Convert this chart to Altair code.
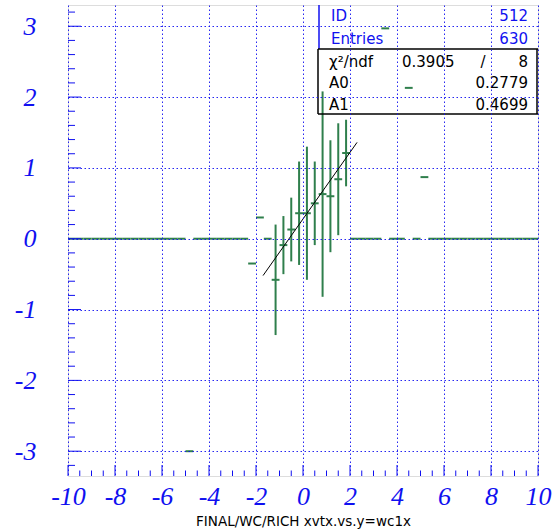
import altair as alt
import numpy as np
import pandas as pd

# ---- histogram data (bins of width 1/3 from -10 to 10) ----
x_lo, x_hi, n_bins = -10.0, 10.0, 60
filled_centers = [-4.833, -2.167, -1.833, -1.167, -0.833, -0.5, -0.167, 0.167,
                  0.5, 0.833, 1.167, 1.5, 1.833, 3.5, 4.5, 5.167]
filled_values = [-3.00, -0.35, 0.30, -0.58, -0.09, 0.13, 0.36, 0.36,
                 0.50, 0.63, 0.60, 0.84, 1.21, 2.97, 2.13, 0.87]
filled_errors = [0.0, 0.0, 0.0, 0.78, 0.41, 0.45, 0.73, 0.94,
                 0.59, 1.45, 0.79, 0.79, 0.47, 0.0, 0.0, 0.0]

# fit line endpoints
fit_x = [-1.70, 2.30]
fit_y = [-0.52, 1.36]

# stats box texts
stat_labels = ["ID", "Entries"]
stat_values = ["512", "630"]
fit_labels = ["χ²/ndf", "A0", "A1"]
fit_values = ["8", "0.2779", "0.4699"]
chi2_text = "0.3905"

x_major = list(range(-10, 11, 2))
x_minor = [v / 2 for v in range(-20, 21) if v % 4 != 0]
y_major = [-3, -2, -1, 0, 1, 2, 3]
y_minor = [v / 5 for v in range(-16, 17) if v % 5 != 0]

edges = np.linspace(x_lo, x_hi, n_bins + 1)
rows = []
for i in range(n_bins):
    c = (edges[i] + edges[i + 1]) / 2
    val, err = 0.0, 0.0
    for fc, fv, fe in zip(filled_centers, filled_values, filled_errors):
        if abs(fc - c) < 0.05:
            val, err = fv, fe
    rows.append({"lo": edges[i], "hi": edges[i + 1], "c": c, "v": val,
                 "e_lo": val - err, "e_hi": val + err, "err": err})
hist = pd.DataFrame(rows)
errs = hist[hist["err"] > 0]

W, H = 470, 471
GREEN = "#2f7f4c"
BLUE = "#1010f0"

xs = alt.Scale(domain=[-10, 10], nice=False, zero=False)
ys = alt.Scale(domain=[-3.35, 3.3], nice=False, zero=False)

lab = dict(labelFont="Liberation Serif", labelFontStyle="italic", labelFontSize=26,
           labelColor=BLUE, labelExpr="'' + datum.value", labelOverlap=False,
           labelFlush=False, labelBound=False, grid=True, gridColor=BLUE,
           gridDash=[1.5, 2.5], gridWidth=1, gridOpacity=0.9, ticks=False,
           domain=False, zindex=1)

x_axis = alt.Axis(values=x_major, labelPadding=7,
                  title="FINAL/WC/RICH xvtx.vs.y=wc1x", titleFont="DejaVu Sans",
                  titleFontSize=13.5, titleFontWeight="normal", titleColor="black",
                  titlePadding=5, **lab)
y_axis = alt.Axis(values=y_major, labelPadding=32, title=None, **lab)

base = alt.Chart(hist)

hbars = base.mark_rule(color=GREEN, strokeWidth=2).encode(
    x=alt.X("lo:Q", scale=xs, axis=x_axis),
    x2="hi:Q",
    y=alt.Y("v:Q", scale=ys, axis=y_axis),
)
vbars = alt.Chart(errs).mark_rule(color=GREEN, strokeWidth=2).encode(
    x=alt.X("c:Q", scale=xs), y=alt.Y("e_lo:Q", scale=ys), y2="e_hi:Q"
)
fit = alt.Chart(pd.DataFrame({"x": fit_x, "y": fit_y})).mark_line(
    color="black", strokeWidth=1).encode(
    x=alt.X("x:Q", scale=xs), y=alt.Y("y:Q", scale=ys))

# ticks (inward)
def xt(vals, length):
    return alt.Chart(pd.DataFrame({"t": vals})).mark_rule(color=BLUE, strokeWidth=1).encode(
        x=alt.X("t:Q", scale=xs), y=alt.value(H), y2=alt.value(H - length))

def yt(vals, length):
    return alt.Chart(pd.DataFrame({"t": vals})).mark_rule(color=BLUE, strokeWidth=1).encode(
        y=alt.Y("t:Q", scale=ys), x=alt.value(0), x2=alt.value(length))

ticks = [xt(x_major, 11), xt(x_minor, 5.5), yt(y_major, 13), yt(y_minor, 7)]

# stats box
one = pd.DataFrame({"a": [0]})
def hline(x1, x2, y, color, w=1.5):
    return alt.Chart(one).mark_rule(color=color, strokeWidth=w).encode(
        x=alt.value(x1), x2=alt.value(x2), y=alt.value(y))

def vline(x, y1, y2, color, w=1.5):
    return alt.Chart(one).mark_rule(color=color, strokeWidth=w).encode(
        x=alt.value(x), y=alt.value(y1), y2=alt.value(y2))

def txt(s, x, y, align, color):
    return alt.Chart(one).mark_text(text=s, align=align, baseline="middle",
                                    font="DejaVu Sans", fontSize=15, color=color).encode(
        x=alt.value(x), y=alt.value(y))

box = [
    vline(251, 0, 44, BLUE),
    hline(250, W, 44, "black"),
    hline(250, W, 109, "black"),
    vline(250, 44, 109, "black"),
    vline(W - 1, 44, 109, "black"),
]
row_y = [11, 34]
for s, v, y in zip(stat_labels, stat_values, row_y):
    box.append(txt(s, 263, y, "left", BLUE))
    box.append(txt(v, 460, y, "right", BLUE))
frow_y = [57, 78, 100]
for s, v, y in zip(fit_labels, fit_values, frow_y):
    box.append(txt(s, 261, y, "left", "black"))
    box.append(txt(v, 460, y, "right", "black"))
box.append(txt(chi2_text, 334, frow_y[0], "left", "black"))
box.append(txt("/", 415, frow_y[0], "center", "black"))

chart = alt.layer(hbars, vbars, fit, *ticks, *box).properties(
    width=W, height=H,
    autosize=alt.AutoSizeParams(type="none"),
    padding={"left": 68, "top": 5, "right": 18, "bottom": 56},
).configure_view(stroke="#3f9458", strokeWidth=2).configure(background="white")

chart.save("out.html", embed_options={"renderer": "svg", "actions": False})
